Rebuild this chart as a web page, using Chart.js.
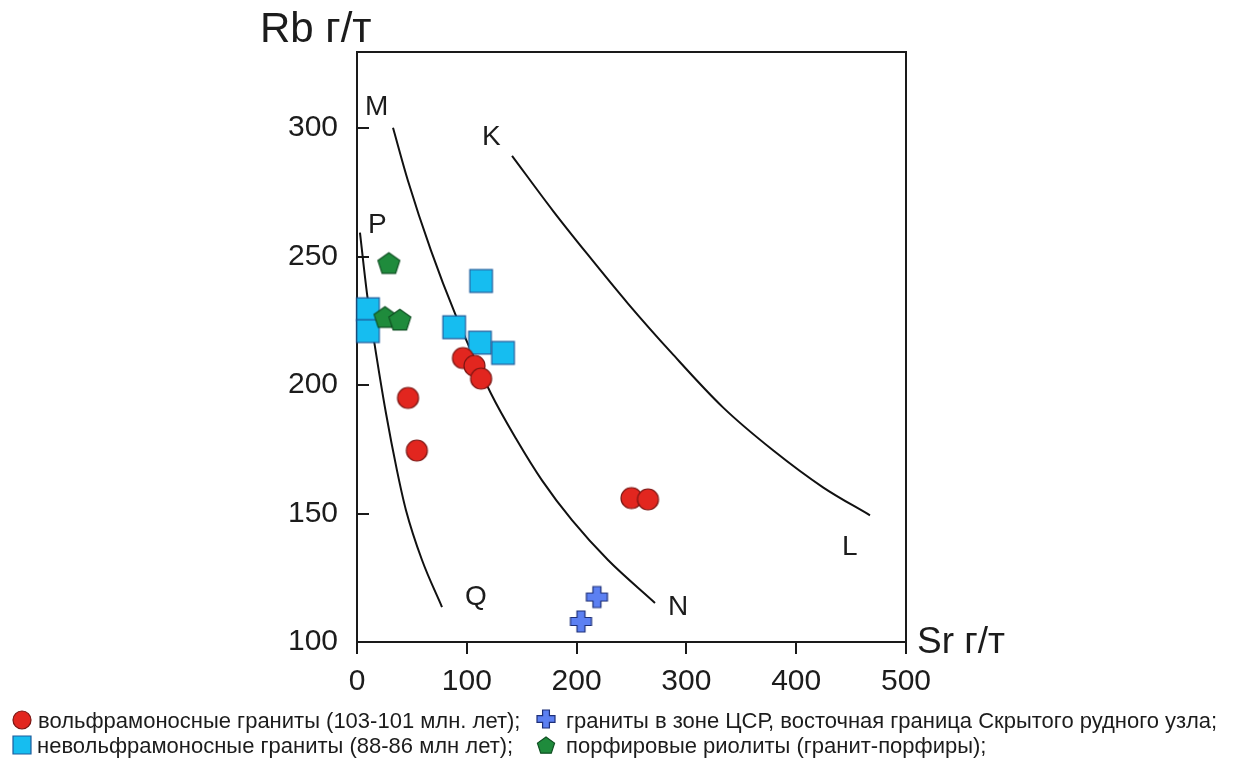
<!DOCTYPE html>
<html>
<head>
<meta charset="utf-8">
<script src="https://cdn.jsdelivr.net/npm/chart.js@4.4.1/dist/chart.umd.min.js"></script>
<style>
  html, body { margin: 0; padding: 0; background: #ffffff; }
  canvas { display: block; }
</style>
</head>
<body>
<canvas id="chart" width="1233" height="760"></canvas>
<script>
// ---- axes ----
const xTickValues = [0, 100, 200, 300, 400, 500];
const yTickValues = [100, 150, 200, 250, 300];

// ---- samples: Sr, Rb (г/т) ----
const tungstenSr = [96.5, 107, 113, 46.5, 54.5, 250, 265];
const tungstenRb = [210.5, 207.5, 202.5, 195, 174.5, 156, 155.5];
const barrenSr = [10, 10, 113, 88.5, 112, 133];
const barrenRb = [229.5, 221, 240.5, 222.5, 216.5, 212.5];
const csrSr = [218.5, 204];
const csrRb = [117.5, 108];
const rhyoliteSr = [29, 25.5, 39];
const rhyoliteRb = [247.5, 226.5, 225.5];

// ---- boundary curves ----
const curvePSr = [2.7, 9.1, 15.5, 26.4, 36.4, 44.6, 59.2, 77.4];
const curvePRb = [259.3, 235.6, 217.3, 189.0, 166.8, 151.3, 131.9, 113.6];
const curveMSr = [32.8, 46.4, 67.4, 89.3, 122.0, 145.7, 168.5, 195.8, 228.6, 271.4];
const curveMRb = [300.1, 279.5, 252.3, 227.8, 196.7, 178.5, 162.9, 147.4, 131.9, 115.2];
const curveKSr = [141.2, 178.5, 209.5, 246.8, 286.9, 333.3, 378.9, 424.4, 467.2];
const curveKRb = [289.2, 267.8, 251.1, 231.7, 212.3, 191.3, 174.6, 160.2, 149.3];

// ---- field letters ----
const fieldNames = ['M', 'K', 'P', 'Q', 'N', 'L'];
const fieldSr = [7.3, 113.8, 10, 98.4, 283.2, 441.7];
const fieldRb = [305, 293.4, 259, 114.5, 110.5, 133.8];

// ---- legend ----
const legendTexts = [
  'вольфрамоносные граниты (103-101 млн. лет);',
  'граниты в зоне ЦСР, восточная граница Скрытого рудного узла;',
  'невольфрамоносные граниты (88-86 млн лет);',
  'порфировые риолиты (гранит-порфиры);'
];

const FONT = '"Liberation Sans", Arial, Helvetica, sans-serif';
const INK = '#1c1c1c';

const styles = {
  circle:   { fill: '#e2261f', stroke: '#7a1512' },
  square:   { fill: '#16bdf0', stroke: '#1d5c9c' },
  plus:     { fill: '#5c80f2', stroke: '#1d2f78' },
  pentagon: { fill: '#1f8b3c', stroke: '#0f4f22' }
};

function shapePath(ctx, kind, x, y, s) {
  ctx.beginPath();
  if (kind === 'circle') {
    ctx.arc(x, y, s, 0, Math.PI * 2);
  } else if (kind === 'square') {
    ctx.rect(x - s, y - s, 2 * s, 2 * s);
  } else if (kind === 'pentagon') {
    for (let i = 0; i < 5; i++) {
      const a = -Math.PI / 2 + i * 2 * Math.PI / 5;
      const px = x + s * Math.cos(a), py = y + s * Math.sin(a) + s * 0.1;
      if (i === 0) ctx.moveTo(px, py); else ctx.lineTo(px, py);
    }
  } else if (kind === 'plus') {
    const t = s * 0.38;
    ctx.moveTo(x - t, y - s); ctx.lineTo(x + t, y - s); ctx.lineTo(x + t, y - t);
    ctx.lineTo(x + s, y - t); ctx.lineTo(x + s, y + t); ctx.lineTo(x + t, y + t);
    ctx.lineTo(x + t, y + s); ctx.lineTo(x - t, y + s); ctx.lineTo(x - t, y + t);
    ctx.lineTo(x - s, y + t); ctx.lineTo(x - s, y - t); ctx.lineTo(x - t, y - t);
  }
  ctx.closePath();
}

function drawShape(ctx, kind, x, y, s) {
  shapePath(ctx, kind, x, y, s);
  ctx.fillStyle = styles[kind].fill;
  ctx.fill();
  ctx.lineWidth = 1.2;
  ctx.strokeStyle = styles[kind].stroke;
  ctx.stroke();
}

function markerImage(kind, s) {
  const c = document.createElement('canvas');
  const size = Math.ceil(2 * s + 4);
  c.width = size; c.height = size;
  drawShape(c.getContext('2d'), kind, size / 2, size / 2, s);
  return c;
}

const pts = (xs, ys) => xs.map((x, i) => ({ x, y: ys[i] }));

function markerSet(label, xs, ys, kind, s) {
  return {
    label, data: pts(xs, ys), order: 0, clip: false,
    pointStyle: markerImage(kind, s), pointRadius: s, showLine: false
  };
}

function curveSet(label, xs, ys) {
  return {
    label, type: 'line', data: pts(xs, ys), order: 1, clip: false,
    borderColor: '#111111', borderWidth: 2, pointRadius: 0,
    cubicInterpolationMode: 'monotone', fill: false, showLine: true
  };
}

const decorPlugin = {
  id: 'decor',
  beforeDatasetsDraw(chart) {
    const { ctx, chartArea: a, scales } = chart;
    ctx.save();
    ctx.strokeStyle = '#1a1a1a';
    ctx.lineWidth = 2;
    ctx.strokeRect(a.left, a.top, a.right - a.left, a.bottom - a.top);
    ctx.beginPath();
    // x ticks point outward, y ticks point inward
    xTickValues.forEach(v => {
      const px = Math.round(scales.x.getPixelForValue(v));
      ctx.moveTo(px, a.bottom); ctx.lineTo(px, a.bottom + 12);
    });
    yTickValues.forEach(v => {
      const py = Math.round(scales.y.getPixelForValue(v));
      ctx.moveTo(a.left, py); ctx.lineTo(a.left + 12, py);
    });
    ctx.stroke();

    // field letters
    ctx.fillStyle = INK;
    ctx.font = '28px ' + FONT;
    ctx.textAlign = 'left';
    ctx.textBaseline = 'alphabetic';
    fieldNames.forEach((n, i) => {
      ctx.fillText(n, scales.x.getPixelForValue(fieldSr[i]), scales.y.getPixelForValue(fieldRb[i]));
    });
    ctx.restore();
  },
  afterDraw(chart) {
    const { ctx, chartArea: a } = chart;
    ctx.save();
    ctx.fillStyle = INK;
    ctx.textAlign = 'left';
    ctx.textBaseline = 'alphabetic';
    ctx.font = '42px ' + FONT;
    ctx.fillText('Rb г/т', a.left - 97, 42);
    ctx.font = '37px ' + FONT;
    ctx.fillText('Sr г/т', a.right + 11, a.bottom + 11);

    // legend, two rows
    const kinds = ['circle', 'plus', 'square', 'pentagon'];
    const icons = [[22, 720], [546, 719], [22, 745], [546, 745]];
    const textX = [38, 566, 37, 566];
    const baseY = [728, 728, 753, 753];
    ctx.font = '22px ' + FONT;
    kinds.forEach((k, i) => {
      drawShape(ctx, k, icons[i][0], icons[i][1], 9);
      ctx.fillStyle = INK;
      ctx.fillText(legendTexts[i], textX[i], baseY[i]);
    });
    ctx.restore();
  }
};

const tickFont = { family: FONT, size: 30 };

new Chart(document.getElementById('chart'), {
  type: 'scatter',
  data: {
    datasets: [
      markerSet(legendTexts[0], tungstenSr, tungstenRb, 'circle', 10.5),
      markerSet(legendTexts[1], csrSr, csrRb, 'plus', 10.5),
      markerSet(legendTexts[3], rhyoliteSr, rhyoliteRb, 'pentagon', 11.5),
      markerSet(legendTexts[2], barrenSr, barrenRb, 'square', 11.3),
      curveSet('P', curvePSr, curvePRb),
      curveSet('M', curveMSr, curveMRb),
      curveSet('K', curveKSr, curveKRb)
    ]
  },
  options: {
    responsive: false,
    animation: false,
    devicePixelRatio: 1,
    layout: { padding: { top: 52, right: 327, left: 0, bottom: 0 } },
    plugins: { legend: { display: false }, tooltip: { enabled: false } },
    scales: {
      x: {
        type: 'linear', min: 0, max: 500,
        afterBuildTicks: s => { s.ticks = xTickValues.map(v => ({ value: v })); },
        ticks: { font: tickFont, color: INK, padding: 22, maxRotation: 0 },
        grid: { display: false, drawTicks: false },
        border: { display: false },
        afterFit: s => { s.height = 118; }
      },
      y: {
        type: 'linear', min: 100, max: 329.6,
        afterBuildTicks: s => { s.ticks = yTickValues.map(v => ({ value: v })); },
        ticks: { font: tickFont, color: INK, padding: 19 },
        grid: { display: false, drawTicks: false },
        border: { display: false },
        afterFit: s => { s.width = 357; }
      }
    }
  },
  plugins: [decorPlugin]
});
</script>
</body>
</html>
